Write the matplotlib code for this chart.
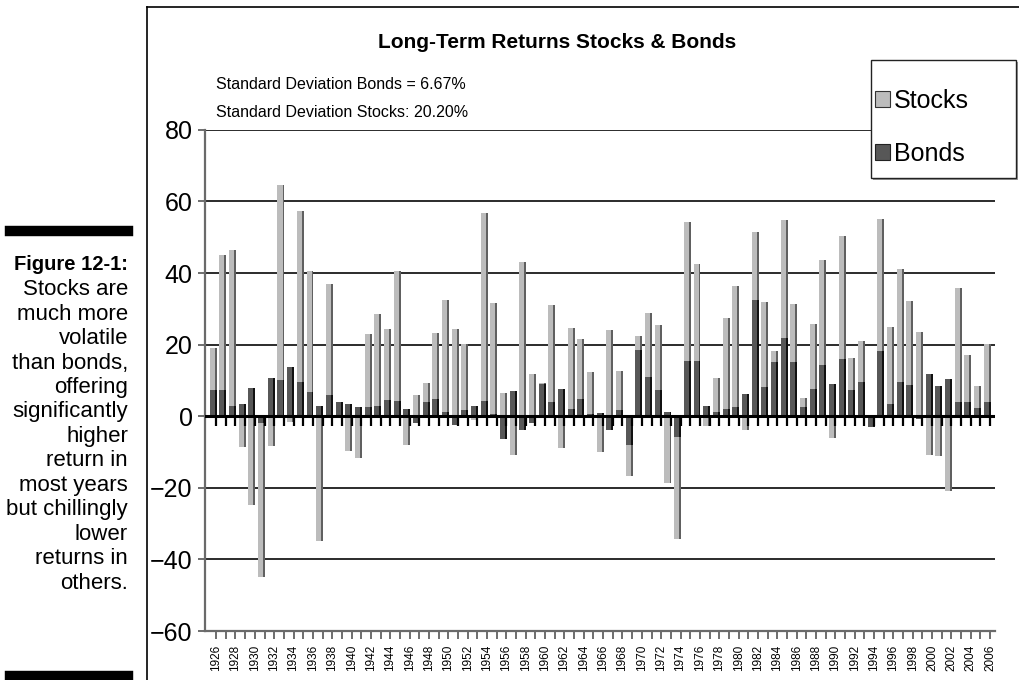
import numpy as np
import matplotlib
matplotlib.use("Agg")
import matplotlib.pyplot as plt
from matplotlib.lines import Line2D
from matplotlib.markers import TICKDOWN
from matplotlib.patches import Patch, Rectangle

plt.rcParams['font.family'] = ['Liberation Sans', 'DejaVu Sans']

years = np.arange(1926, 2007)
stocks = [19.2, 45.1, 46.5, -8.6, -24.8, -45.0, -8.4, 64.6, -1.6, 57.2,
          40.6, -34.8, 37.0, -0.5, -9.8, -11.7, 22.9, 28.7, 24.4, 40.6,
          -8.1, 5.8, 9.4, 23.3, 32.6, 24.3, 20.1, -1.0, 56.8, 31.5,
          6.6, -10.9, 43.1, 11.9, 9.3, 31.0, -8.8, 24.7, 21.5, 12.4,
          -10.0, 24.0, 12.7, -16.7, 22.4, 28.9, 25.4, -18.7, -34.3, 54.3,
          42.4, -2.8, 10.7, 27.5, 36.4, -3.7, 51.5, 32.0, 18.2, 54.9,
          31.4, 5.1, 25.8, 43.7, -6.1, 50.4, 16.3, 21.0, -2.0, 55.1,
          25.0, 41.2, 32.3, 23.6, -10.9, -11.2, -20.8, 35.9, 17.0, 8.5,
          20.2]
bonds = [7.4, 7.3, 2.8, 3.3, 7.9, -1.9, 10.7, 10.2, 13.8, 9.6,
         6.7, 2.8, 6.0, 4.1, 3.5, 2.7, 2.5, 3.0, 4.5, 4.3,
         1.9, -1.8, 3.9, 4.7, 1.1, -2.4, 1.7, 3.0, 4.2, 0.5,
         -6.3, 7.1, -3.9, -2.0, 9.0, 3.9, 7.6, 1.9, 4.9, 0.6,
         1.0, -3.8, 1.7, -8.1, 18.4, 11.1, 7.2, 1.2, -5.9, 15.5,
         15.5, 3.0, 1.3, 1.9, 2.6, 6.3, 32.6, 8.3, 15.2, 22.0,
         15.2, 2.7, 7.7, 14.4, 9.0, 16.0, 7.2, 9.7, -3.1, 18.3,
         3.5, 9.5, 8.6, -0.7, 11.8, 8.4, 10.4, 4.1, 4.1, 2.4,
         4.1]
yticks = [-60, -40, -20, 0, 20, 40, 60, 80]
caption = ["Stocks are", "much more", "volatile", "than bonds,", "offering",
           "significantly", "higher", "return in", "most years",
           "but chillingly", "lower", "returns in", "others."]

W, H = 1020, 680
fig = plt.figure(figsize=(10.2, 6.8), dpi=100)
ax = fig.add_axes([0.201, 0.072, 0.774, 0.737])

# 3D-ish bars: a front face plus a darker right side
ax.bar(years - 0.1, stocks, 0.52, color="#bcbcbc", zorder=3)
ax.bar(years + 0.26, stocks, 0.2, color="#606060", zorder=3)
ax.bar(years - 0.1, bonds, 0.52, color="#575757", zorder=4)
ax.bar(years + 0.26, bonds, 0.2, color="#111111", zorder=4)

ax.set_xlim(1926 - 0.85, 2006 + 0.75)
ax.set_ylim(-60, 80)
for v in yticks:
    if v not in (-60, 0):
        ax.axhline(v, color="#1a1a1a", lw=1.3, zorder=1)
ax.axhline(0, color="black", lw=2.2, zorder=5)
ax.plot(years + 0.3, np.zeros(len(years)), ls="none", marker=TICKDOWN,
        ms=7, mew=1.6, color="black", zorder=5, clip_on=False)

ax.set_yticks(yticks)
ax.set_yticklabels([f"{v}" if v >= 0 else f"\u2212{-v}" for v in yticks], fontsize=18)
ax.set_xticks(years + 0.3)
ax.set_xticklabels([str(y) if (y - 1926) % 2 == 0 else "" for y in years],
                   rotation=90, fontsize=8.5)
ax.tick_params(axis="x", length=6, width=1.2, color="#555555", pad=4)
ax.tick_params(axis="y", length=5, width=1.2, color="#555555", pad=4)
for s in ["top", "right"]:
    ax.spines[s].set_visible(False)
ax.spines["left"].set_color("#6a6a6a")
ax.spines["left"].set_linewidth(1.6)
ax.spines["bottom"].set_color("#6a6a6a")
ax.spines["bottom"].set_linewidth(1.6)

fig.text(0.546, 0.938, "Long-Term Returns Stocks & Bonds", ha="center", va="center",
         fontsize=15, fontweight="bold")
fig.text(0.212, 0.876, "Standard Deviation Bonds = 6.67%", ha="left", va="center", fontsize=11.5)
fig.text(0.212, 0.835, "Standard Deviation Stocks: 20.20%", ha="left", va="center", fontsize=11.5)

# legend box with a soft shadow, entries left-aligned inside
fig.add_artist(Rectangle((873 / W, 1 - 180 / H), 145 / W, 118 / H, transform=fig.transFigure,
                         facecolor="#9a9a9a", edgecolor="none", zorder=8))
fig.add_artist(Rectangle((871 / W, 1 - 178 / H), 145 / W, 118 / H, transform=fig.transFigure,
                         facecolor="white", edgecolor="#222222", lw=1.0, zorder=9))
handles = [Patch(facecolor="#bcbcbc", edgecolor="#333333", lw=0.8),
           Patch(facecolor="#575757", edgecolor="#222222", lw=0.8)]
leg = fig.legend(handles, ["Stocks", "Bonds"], loc="upper left",
                 bbox_to_anchor=(875 / W, 1 - 89 / H), fontsize=18, frameon=False,
                 borderpad=0, labelspacing=1.15, handlelength=0.6,
                 handleheight=0.6, handletextpad=0.15, borderaxespad=0)
leg.set_zorder(10)

# page frame and caption column
fig.add_artist(Line2D([147 / W, 147 / W], [0, 1 - 7 / H], color="black", lw=1.2))
fig.add_artist(Line2D([147 / W, 1], [1 - 7 / H, 1 - 7 / H], color="black", lw=1.2))
fig.add_artist(Line2D([10 / W, 128 / W], [1 - 231 / H, 1 - 231 / H], color="black", lw=7.5))
fig.add_artist(Line2D([10 / W, 128 / W], [1 - 676 / H, 1 - 676 / H], color="black", lw=7.5))
fig.text(128 / W, 1 - 265 / H, "Figure 12-1:", ha="right", va="center",
         fontsize=14.5, fontweight="bold")
for i, line in enumerate(caption):
    fig.text(128 / W, 1 - (289.5 + 24.5 * i) / H, line, ha="right", va="center", fontsize=16)

fig.savefig("out.png", dpi=100)
